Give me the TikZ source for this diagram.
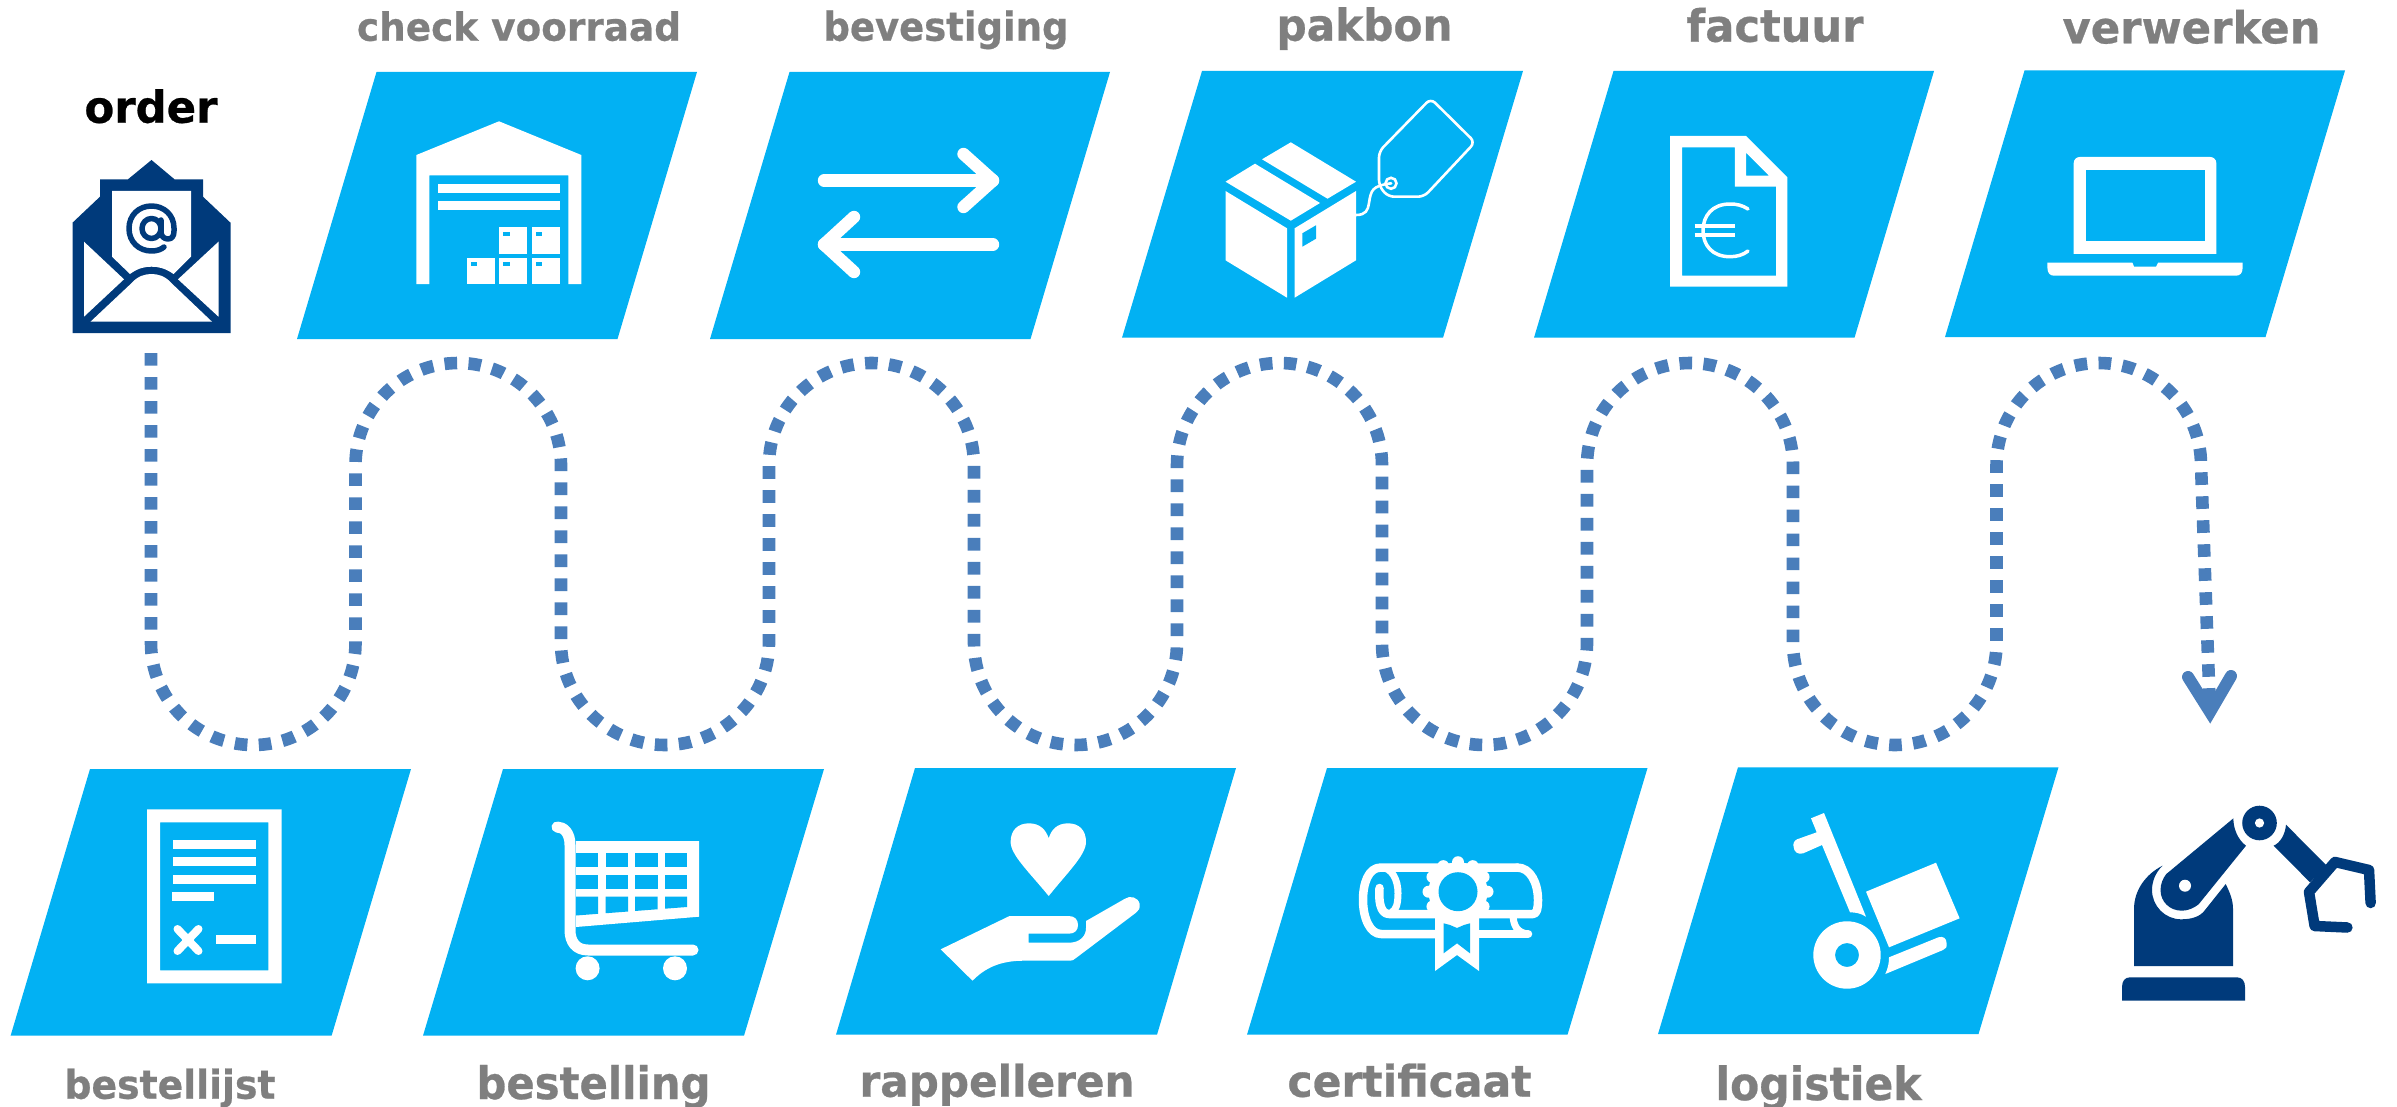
\documentclass[tikz,border=0pt]{standalone}
\usepackage{fontspec}
\usepackage{graphicx}
\setmainfont{DejaVu Sans}[BoldFont={DejaVu Sans Bold},BoldFeatures={FakeBold=0.6}]
\definecolor{cy}{HTML}{02B1F3}
\definecolor{gr}{HTML}{7F7F7F}
\definecolor{nv}{HTML}{003A7B}
\definecolor{fl}{HTML}{4A7EBB}
\tikzset{
  wf/.style={fill=white,draw=none},
  nf/.style={fill=nv,draw=none},
  bf/.style={fill=cy,draw=none},
  wl/.style={draw=white,line width=#1*0.5pt,line cap=round,line join=round},
  nl/.style={draw=nv,line width=#1*0.5pt,line cap=round,line join=round},
  flow/.style={draw=fl,line width=6.3pt,dash pattern=on 6.3pt off 5.7pt},
  head/.style={draw=fl,line width=6pt,line cap=round,line join=miter},
  lab/.style={inner sep=0pt,outer sep=0pt,anchor=base},
}
\newlength\lblw
\newlength\lblh
% name, centre x, baseline y, width, height, colour, text
\newcommand\lbl[7]{\pgfmathsetlength\lblw{(#4+5)*0.5}\pgfmathsetlength\lblh{(#5+1.5)*0.5}\node[lab,text=#6] (#1) at (#2,#3) {\resizebox{\lblw}{\lblh}{\bfseries #7}};}
% parallelogram: TL x, BL x, top y, bottom y, width
\newcommand\para[5]{\fill[cy] (#1,#3) -- ({#1+#5},#3) -- ({#2+#5},#4) -- (#2,#4) -- cycle;}
\newcommand\botarc[2]{.. controls (#1,699.5) and ({(#1+#2)/2-56.5},745) .. ({(#1+#2)/2},745) .. controls ({(#1+#2)/2+56.5},745) and (#2,699.5) .. (#2,643)}
\newcommand\toparc[2]{.. controls (#1,408.5) and ({(#1+#2)/2-56.5},363) .. ({(#1+#2)/2},363) .. controls ({(#1+#2)/2+56.5},363) and (#2,408.5) .. (#2,465)}
\begin{document}
\begin{tikzpicture}[x=0.5pt,y=0.5pt,yscale=-1]
\useasboundingbox (0,0) rectangle (2397,1107);
% ---------- parallelograms
\para{376.5}{297}{72}{339}{320.5}
\para{789.5}{710}{72}{339}{320.5}
\para{1202}{1122}{71}{337.7}{321}
\para{1613.5}{1534}{71}{337.7}{320.5}
\para{2024.5}{1945}{70.5}{337}{320.5}
\para{90}{10.6}{769}{1035.7}{321}
\para{503}{423}{769}{1035.7}{321}
\para{915}{836}{768}{1034.7}{321}
\para{1327}{1247}{768}{1034.7}{320.5}
\para{1738}{1658}{767.3}{1034}{320.5}
% ---------- labels
\lbl{order}{151}{122.7}{128}{32}{black}{order}
\lbl{check}{519}{40.7}{319}{28}{gr}{check voorraad}
\lbl{bev}{946}{40.7}{240}{28.7}{gr}{bevestiging}
\lbl{pak}{1364.5}{40.7}{171}{32}{gr}{pakbon}
\lbl{fac}{1775}{41.7}{172}{32.4}{gr}{factuur}
\lbl{ver}{2191.5}{43.3}{253}{32}{gr}{verwerken}
\lbl{lijst}{170}{1098.7}{206}{28.7}{gr}{bestellijst}
\lbl{best}{593.5}{1099}{229}{32.6}{gr}{bestelling}
\lbl{rap}{997}{1096.7}{270}{31.7}{gr}{rappelleren}
\lbl{cert}{1409.5}{1096.7}{239}{31.7}{gr}{certificaat}
\lbl{log}{1818.5}{1100}{201}{33.3}{gr}{logistiek}
% ---------- flow
\coordinate (flowstart) at (151,353);
\coordinate (flowend) at (2210,712);
\draw[flow] (flowstart) -- (151,643) \botarc{151}{355.5}
  -- (355.5,465) \toparc{355.5}{561}
  -- (561,643) \botarc{561}{769}
  -- (769,465) \toparc{769}{974}
  -- (974,643) \botarc{974}{1177}
  -- (1177,465) \toparc{1177}{1382}
  -- (1382,643) \botarc{1382}{1587}
  -- (1587,465) \toparc{1587}{1793}
  -- (1793,643) \botarc{1793}{1996.5}
  -- (1996.5,465) \toparc{1996.5}{2201}
  -- (flowend);
\draw[head] (2188,677) -- (flowend) -- (2231,676);
% ---------- envelope
\fill[nf] (72.5,333) -- (230.5,333) -- (230.5,222.7) -- (203,196.7) -- (203,179.3) -- (174.5,179.3) -- (151.5,160) -- (128,179.3) -- (100,179.3) -- (100,196.7) -- (72.5,222.7) -- cycle;
\fill[wf] (112,191) -- (191,191) -- (191,256.7) -- (173.5,274) .. controls (165,268) and (158,266.7) .. (151.5,266.7) .. controls (145,266.7) and (138,268) .. (130,274) -- (112,256.7) -- cycle;
\fill[wf] (84,241.7) -- (124,279.3) -- (84,316.7) -- cycle;
\fill[wf] (218.5,241.7) -- (178,279.3) -- (218.5,316.7) -- cycle;
\fill[wf] (90.5,321.7) -- (212,321.7) -- (171,282.7) .. controls (165,276) and (158,274) .. (151.5,274) .. controls (145,274) and (138,276) .. (132,282.7) -- cycle;
\draw[nl=5.5] (151.5,228.5) ellipse [x radius=9.5,y radius=10];
\draw[nl=5.5] (161,220) -- (161,232) .. controls (161,236) and (164,239) .. (168,239) .. controls (172,239) and (174,236) .. (174,231) -- (174,228) .. controls (174,215) and (164,206) .. (151.5,206) .. controls (139,206) and (129,215) .. (129,228.5) .. controls (129,242) and (139,251) .. (151.5,251) .. controls (157,251) and (161,249.5) .. (164,247);
% ---------- warehouse
\fill[wf] (416.4,155) -- (499,121.3) -- (581.3,155) -- (581.3,284) -- (568.4,284) -- (568.4,175.3) -- (429.3,175.3) -- (429.3,284) -- (416.4,284) -- cycle;
\fill[wf] (438,184) rectangle (560,193);
\fill[wf] (438,201) rectangle (560,210);
\foreach \bx/\by in {499/227.3,531.5/227.3,466.5/257.7,499/257.7,531.5/257.7}{
  \fill[wf] (\bx,\by) rectangle ({\bx+28},{\by+26.3});
  \fill[bf] ({\bx+4},{\by+4.7}) rectangle ({\bx+10.5},{\by+8.7});
}
% ---------- exchange arrows
\draw[wl=12.4] (824,180.5) -- (993,180.5);
\draw[wl=12.4] (963.5,154) -- (993,180.5) -- (963.5,207);
\draw[wl=12.4] (993,244.5) -- (824,244.5);
\draw[wl=12.4] (854,217) -- (824,244.5) -- (854,272);
% ---------- box and tag
\fill[wf] (1290.8,142.3) -- (1356,181.7) -- (1327.5,198.7) -- (1262,159.3) -- cycle;
\fill[wf] (1255,163.7) -- (1320,203) -- (1290.8,220.7) -- (1225.5,181.7) -- cycle;
\fill[wf] (1225.5,191) -- (1287,228.3) -- (1287,297.7) -- (1225.5,260.3) -- cycle;
\fill[wf] (1294.6,228.3) -- (1356,191) -- (1356,260.3) -- (1294.6,297.7) -- cycle;
\fill[bf] (1302.3,233.3) -- (1316,225.3) -- (1316,238.7) -- (1302.3,246.7) -- cycle;
\draw[draw=white,line width=1.3pt,rounded corners=3pt] (1379,151.5) -- (1430.7,98.5) -- (1475,142.3) -- (1424,196.7) -- (1388,196.7) -- (1379,186) -- cycle;
\draw[draw=white,line width=1.3pt] (1391,183.3) circle (5.5);
\fill[wf] (1391,183.3) circle (1.5);
\draw[draw=white,line width=1.3pt] (1356,215) .. controls (1366,215) and (1368,210) .. (1369,203) .. controls (1371,190) and (1372,186) .. (1391,183.3);
% ---------- invoice
\fill[wf,even odd rule] (1670,136) -- (1746,136) -- (1787.3,177.3) -- (1787.3,286.7) -- (1670,286.7) -- cycle
  (1682,147.3) -- (1734.8,147.3) -- (1734.8,186.7) -- (1776,186.7) -- (1776,275.7) -- (1682,275.7) -- cycle
  (1746,152.7) -- (1769,175.7) -- (1746,175.7) -- cycle;
\draw[wl=3.5] (1748,209) .. controls (1742,205) and (1736,204) .. (1730,204) .. controls (1712,204) and (1703,216) .. (1703,230.5) .. controls (1703,245) and (1712,256.7) .. (1730,256.7) .. controls (1737,256.7) and (1743,255) .. (1748,251);
\draw[draw=white,line width=2pt] (1694.5,226) -- (1735,226) (1694.5,235) -- (1735,235);
% ---------- laptop
\fill[wf,rounded corners=3pt] (2073.7,254) [sharp corners] -- (2073.7,170) [rounded corners=3pt] -- (2073.7,157) -- (2216.3,157) -- (2216.3,170) [sharp corners] -- (2216.3,254) -- cycle;
\fill[bf] (2086,170) rectangle (2204.6,241.3);
\fill[wf] (2047.4,262.7) -- (2132.4,262.7) -- (2134,266.7) -- (2156,266.7) -- (2158,262.7) -- (2242.6,262.7) -- (2242.6,268) .. controls (2242.6,273) and (2240,275.7) .. (2236,275.7) -- (2054,275.7) .. controls (2050,275.7) and (2047.4,273) .. (2047.4,268) -- cycle;
% ---------- order list
\fill[wf,even odd rule] (147,809.3) rectangle (281.6,983.3) (160,822.3) rectangle (268.4,970.3);
\fill[wf] (173,840) rectangle (256,849);
\fill[wf] (173,857) rectangle (256,866);
\fill[wf] (173,875) rectangle (256,884);
\fill[wf] (172,892) rectangle (213.9,901);
\fill[wf] (216,935) rectangle (256,944);
\draw[wl=8] (177.5,929) -- (198.5,951) (198.5,929) -- (177.5,951);
% ---------- cart
\draw[wl=11] (557,827) .. controls (564,827) and (570,833) .. (570,845) -- (570,930) .. controls (570,942) and (576,950) .. (588,950) -- (693,950);
\fill[wf] (576,841) -- (699,841) -- (699,916.7) -- (576,927) -- cycle;
\foreach \xa/\xb in {576/598,605.6/628,635/657.5,665/687}{
  \fill[bf] (\xa,853.3) rectangle (\xb,867);
  \fill[bf] (\xa,875) rectangle (\xb,889);
  \fill[bf] (\xa,896.7) -- (\xb,896.7) -- (\xb,{915.5-(\xb-576)*0.0766}) -- (\xa,{915.5-(\xa-576)*0.0766}) -- cycle;
}
\fill[wf] (587.6,968.3) circle (12);
\fill[wf] (675,968.3) circle (12);
% ---------- heart and hand
\fill[wf] (1048.7,896) .. controls (1030,873) and (1010.6,855) .. (1010.6,842) .. controls (1010.6,830) and (1018,823.3) .. (1029,823.3) .. controls (1040,823.3) and (1046,830) .. (1048.7,838.3) .. controls (1051,830) and (1057,823.3) .. (1068,823.3) .. controls (1079,823.3) and (1086,830) .. (1086,842) .. controls (1086,855) and (1067,873) .. (1048.7,896) -- cycle;
\fill[wf] (940.7,949.3) -- (1009.5,916) -- (1068.8,916) .. controls (1075,916) and (1078,920) .. (1078,925) .. controls (1078,930) and (1075,933.7) .. (1068.8,933.7) -- (1028.6,933.7) -- (1028.6,942.7) -- (1068.8,942.7) .. controls (1080,942.7) and (1086,936) .. (1086,928) -- (1086,921) -- (1124.4,899) .. controls (1130,895) and (1138,897) .. (1139.7,904) .. controls (1140,908) and (1139,911) .. (1136,912.7) -- (1076,958) .. controls (1074,960) and (1072,960.7) .. (1070,960.7) -- (1023.8,960.7) .. controls (1000,960.7) and (985,968) .. (972.5,980.7) -- cycle;
% ---------- diploma
\draw[wl=8.5] (1517,867.5) -- (1381,867.5) .. controls (1368,867.5) and (1363,884) .. (1363,900) .. controls (1363,918) and (1370,934) .. (1381,934) -- (1436,934);
\draw[wl=8.5] (1479,934) -- (1528,934);
\draw[wl=8.5] (1517,867.5) .. controls (1531,867.5) and (1538,884) .. (1538,900) .. controls (1538,908) and (1537,914) .. (1533,914) -- (1479,914);
\draw[wl=8.5] (1436,914) -- (1389,914) .. controls (1380,914) and (1378.5,900) .. (1379.5,888);
\draw[wl=7] (1381,867.5) .. controls (1392,867.5) and (1398,880) .. (1398,893) .. controls (1398,904) and (1396,910) .. (1392,912);
\draw[wl=7] (1513,914) .. controls (1513,925) and (1517,933) .. (1528,934);
\foreach \a in {0,30,...,330}{\fill[wf] ({1458+29.5*cos(\a)},{891.7+29.5*sin(\a)}) circle (6);}
\fill[wf] (1458,891.7) circle (29.5);
\fill[wf] (1435,916) -- (1479,916) -- (1479,971) -- (1457,955) -- (1435,971) -- cycle;
\fill[bf] (1443.6,923.3) -- (1450,925) -- (1457,928) -- (1464,925) -- (1470,923.3) -- (1470,953.3) -- (1457,943.3) -- (1443.6,953.3) -- cycle;
\fill[bf] (1458,891.7) circle (19.5);
% ---------- hand truck
\fill[wf] (1811,818.3) -- (1824,813) -- (1866,916.7) .. controls (1860,913) and (1856,912.5) .. (1850,912.3) -- (1822,845) -- (1803.2,853.3) .. controls (1798,855) and (1794,852) .. (1793.5,846.7) .. controls (1793,843) and (1794,841) .. (1797,839.3) -- (1816.7,832.3) -- cycle;
\fill[wf] (1866,891.7) -- (1936,862.7) -- (1959.6,918.3) -- (1889,947.3) -- cycle;
\fill[wf,even odd rule] (1847,955) circle (33.7) (1847,955) circle (12);
\fill[wf] (1889,957.3) -- (1938.4,937.3) .. controls (1943,936) and (1946.6,938) .. (1946.6,943.3) .. controls (1947,947) and (1946,949) .. (1943,950) -- (1885.3,974) .. controls (1888,968) and (1889,963) .. (1889,957.3) -- cycle;
% ---------- robot
\fill[nf] (2122,1000.7) -- (2122,987) .. controls (2122,981) and (2125,977.3) .. (2130,977.3) -- (2237,977.3) .. controls (2242,977.3) and (2245,981) .. (2245,987) -- (2245,1000.7) -- cycle;
\fill[nf] (2134,966) -- (2134,909) .. controls (2134,890) and (2146,874) .. (2162.5,865.7) .. controls (2155,873) and (2152,882) .. (2152,890) .. controls (2152,906) and (2165,919.3) .. (2181,919.3) .. controls (2191,919.3) and (2200,917) .. (2205,910) -- (2225.7,884) .. controls (2230,893) and (2233,900) .. (2233,909.3) -- (2233,966) -- cycle;
\fill[nf] (2233.4,818.3) .. controls (2233,828) and (2238,840) .. (2246,845.7) -- (2198.6,904.3) .. controls (2194,908) and (2188,910.7) .. (2181.8,910.7) .. controls (2170,910.7) and (2160.5,902) .. (2160.5,890) .. controls (2160.5,884) and (2163,878) .. (2166.3,874) -- cycle;
\fill[wf] (2185,885.7) circle (6);
\fill[nf] (2259.5,823) circle (17.3);
\fill[wf] (2259.5,823) circle (4.6);
\fill[nf] (2286,824.7) -- (2327,866) -- (2310,882.3) -- (2273.5,845.7) .. controls (2280,843) and (2285,835) .. (2286,824.7) -- cycle;
\draw[nl=10.5] (2370.6,903) -- (2369,870) -- (2335,862) -- (2309,892) -- (2314.6,926) -- (2347.4,927.5);
\end{tikzpicture}
\end{document}
